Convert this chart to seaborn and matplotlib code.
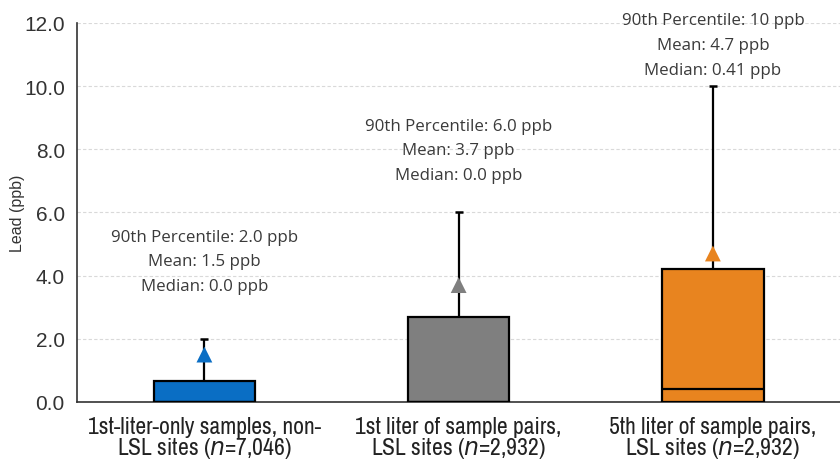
import numpy as np
import pandas as pd
import matplotlib
matplotlib.use("Agg")
import matplotlib.pyplot as plt
import seaborn as sns

sns.set_style("white")
plt.rcParams['font.family'] = ['Liberation Sans', 'DejaVu Sans']

# data
groups = ['1st-liter-only samples, non-\nLSL sites ($\\it{n}$=7,046)',
          '1st liter of sample pairs,\nLSL sites ($\\it{n}$=2,932)',
          '5th liter of sample pairs,\nLSL sites ($\\it{n}$=2,932)']
q75 = [0.65, 2.7, 4.2]
median = [0.0, 0.0, 0.41]
p90 = [2.0, 6.0, 10.0]
mean = [1.5, 3.7, 4.7]
p90_txt = ['2.0', '6.0', '10']
mean_txt = ['1.5', '3.7', '4.7']
median_txt = ['0.0', '0.0', '0.41']
colors = ['#0A6EC4', '#7F7F7F', '#E8841F']

# middle line of each annotation block (ppb)
label_mid = [4.45, 7.97, 11.3]

df = pd.DataFrame({'group': groups, 'q75': q75, 'median': median,
                   'p90': p90, 'mean': mean})

fig, ax = plt.subplots(figsize=(8.4, 4.6), dpi=100)
fig.subplots_adjust(left=0.092, right=1.0, bottom=0.124, top=0.948)

# whiskers up to 90th percentile
ax.vlines(range(3), df['q75'], df['p90'], color='black', lw=1.6, zorder=2)
ax.hlines(df['p90'], np.arange(3) - 0.016, np.arange(3) + 0.016, color='black', lw=1.8, zorder=2)

sns.barplot(data=df, x='group', y='q75', hue='group', palette=colors, width=0.4,
            saturation=1, edgecolor='black', linewidth=1.6, legend=False, ax=ax, zorder=3)

# median lines
ax.hlines(df['median'], np.arange(3) - 0.2, np.arange(3) + 0.2, color='black', lw=1.6, zorder=4)

# mean markers
sns.scatterplot(data=df, x='group', y='mean', hue='group', palette=colors, marker='^',
                s=130, edgecolor='none', legend=False, ax=ax, zorder=5)

for i in range(3):
    txt = (f'90th Percentile: {p90_txt[i]} ppb\nMean: {mean_txt[i]} ppb\n'
           f'Median: {median_txt[i]} ppb')
    ax.text(i, label_mid[i], txt, ha='center', va='center', fontsize=12.2,
            family=['Open Sans', 'DejaVu Sans'], color='#3a3a3a', linespacing=1.72)

ax.set_xlim(-0.5, 2.5)
ax.set_ylim(0, 12)
ax.set_yticks(np.arange(0, 12.1, 2))
ax.set_yticklabels([f'{v:.1f}' for v in np.arange(0, 12.1, 2)], fontsize=15, color='#333333')
ax.yaxis.grid(True, color='#d9d9d9', linestyle=(0, (3, 2)), lw=0.8)
ax.set_axisbelow(True)

ax.set_xticks(range(3))
ax.set_xticklabels(groups, fontsize=17, family=['Liberation Sans Narrow', 'Archivo Narrow', 'Liberation Sans'],
                   color='#222222', linespacing=0.9)
ax.tick_params(axis='x', length=0, pad=10)
ax.set_xticks([-0.5, 0.5, 1.5, 2.5], minor=True)
ax.tick_params(axis='x', which='minor', length=5, width=1, color='#333333', direction='out')
ax.tick_params(axis='y', length=5, width=1, color='#333333', direction='out', pad=4)

ax.set_xlabel('')
ax.set_ylabel('Lead (ppb)', fontsize=11.5, color='#333333')
ax.yaxis.set_label_coords(-0.068, 0.5)

for s in ['top', 'right']:
    ax.spines[s].set_visible(False)
for s in ['left', 'bottom']:
    ax.spines[s].set_color('#333333')
    ax.spines[s].set_linewidth(1.2)

fig.savefig('out.png', dpi=100)
